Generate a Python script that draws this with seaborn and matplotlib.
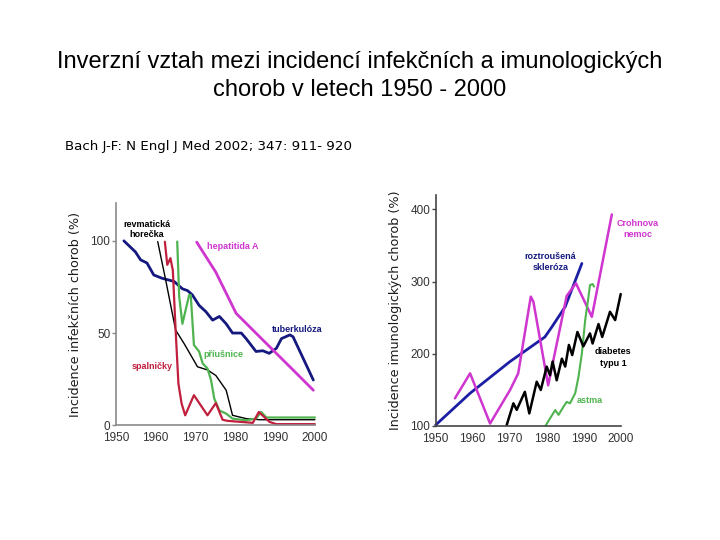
import numpy as np
import pandas as pd
import matplotlib
matplotlib.use("Agg")
import matplotlib.pyplot as plt
import seaborn as sns

sns.set_style("white")
plt.rcParams["font.family"] = ["DejaVu Sans"]
plt.rcParams["text.color"] = "black"
plt.rcParams["axes.labelcolor"] = "#1a1a1a"

# --- infectious diseases (left panel), incidence in % ---
tbc_year = [1952, 1954.9, 1956.2, 1957.8, 1959.5, 1961.6, 1964.6, 1966.7, 1968, 1969.2, 1970.9,
            1972.6, 1974.3, 1976, 1977.7, 1979.3, 1981.5, 1982.7, 1985.2, 1986.9, 1988.5, 1990.3,
            1991.6, 1993.7, 1994.5, 1999.6]
tbc_val = [100, 94, 89.7, 88, 81.5, 79.7, 78, 74, 73, 70.7, 65, 61.6, 57, 59, 55, 50, 50, 47, 40,
           40.4, 39, 41.7, 47, 49, 48, 24.5]

hep_year = [1970.3, 1975.1, 1980.2, 1986.1, 1994.5, 1999.6]
hep_val = [99.3, 83, 60.7, 48, 30, 19]

rheu_year = [1960.5, 1962.5, 1965, 1967.1, 1970.5, 1973, 1975.1, 1977.7, 1979.3, 1982.7, 1986.1, 2000]
rheu_val = [99.6, 78.8, 51.6, 44.4, 31.7, 30, 27, 19, 5.4, 3.6, 3, 3]

measles_year = [1962.3, 1962.9, 1963.7, 1964.3, 1965, 1965.7, 1966.5, 1967.4, 1969.6, 1973, 1975.1,
                1976.8, 1978, 1984.4, 1985.9, 1988.6, 1990.3, 2000]
measles_val = [99.5, 87, 90.6, 84, 51.6, 22.6, 11.8, 5.4, 16.3, 5.4, 12, 3, 2.4, 1.3, 7.2, 1.8, 0.6, 0.6]

mumps_year = [1965.4, 1965.9, 1966.7, 1968.4, 1968.8, 1969.2, 1969.6, 1970.9, 1971.8, 1973, 1973.9,
              1974.7, 1976, 1977.7, 1979.3, 1982.7, 1985.2, 1986.5, 1987.8, 1990.3, 2000]
mumps_val = [99.6, 69.7, 55, 70.6, 70.6, 57, 43.5, 40, 33.5, 30.8, 24.5, 14.5, 8, 6.3, 3.6, 2.7, 3.6,
             7.2, 4.2, 4.2, 4.2]

# --- immunological diseases (right panel), incidence in % ---
ms_year = [1950, 1959.3, 1970.1, 1979.5, 1981.4, 1985, 1989.5]
ms_val = [101, 145, 189, 223, 237, 265, 325]

crohn_year = [1955.2, 1959.3, 1964.7, 1970.1, 1972.3, 1975.7, 1976.4, 1980.4, 1985.4, 1987.9,
              1992.2, 1997.6]
crohn_val = [137.9, 172.6, 103, 149.5, 172.6, 279, 272, 156, 280, 297.5, 251, 393]

diab_year = [1969.2, 1971, 1971.9, 1974.1, 1975.3, 1977.3, 1978.4, 1980, 1980.9, 1981.6, 1982.7,
             1984.1, 1985, 1986, 1986.9, 1988.3, 1989.9, 1991.7, 1992.4, 1994, 1995, 1997.1,
             1998.5, 2000]
diab_val = [101, 131, 122, 147, 117, 161, 149.5, 182, 170, 189, 163, 193, 182, 212, 198, 230, 210,
            228, 214, 241, 223, 258, 246.5, 282.6]

asthma_year = [1979.7, 1982.3, 1983.2, 1984.5, 1985.4, 1986.3, 1987.7, 1988.6, 1989.5, 1990.4,
               1991.3, 1991.7, 1992.4, 1992.8]
asthma_val = [100, 121.7, 115, 126, 133, 131, 145, 168, 200, 246.5, 279, 295, 296.5, 293]

year_ticks = [1950, 1960, 1970, 1980, 1990, 2000]

NAVY = "#15197f"
BLUE = "#1c1fa3"
MAGENTA = "#cf35cf"
GREEN = "#4fb34f"
CRIMSON = "#c01f3d"


def draw(ax, x, y, color, lw):
    sns.lineplot(x=x, y=y, ax=ax, color=color, linewidth=lw, sort=False,
                 estimator=None, clip_on=False)


fig = plt.figure(figsize=(7.2, 5.4), dpi=100)

title_font = ["Liberation Sans Narrow", "Liberation Sans", "DejaVu Sans"]
fig.text(0.5, 0.885, "Inverzní vztah mezi incidencí infekčních a imunologických",
         ha="center", va="center", fontsize=17, family=title_font)
fig.text(0.5, 0.834, "chorob v letech 1950 - 2000",
         ha="center", va="center", fontsize=17, family=title_font)
fig.text(0.09, 0.728, "Bach J-F: N Engl J Med 2002; 347: 911- 920",
         ha="left", va="center", fontsize=9.6)

# left panel
ax1 = fig.add_axes([0.161, 0.2125, 0.2764, 0.4115])
draw(ax1, tbc_year, tbc_val, NAVY, 2.0)
draw(ax1, hep_year, hep_val, MAGENTA, 2.0)
draw(ax1, rheu_year, rheu_val, "black", 1.0)
draw(ax1, mumps_year, mumps_val, GREEN, 1.6)
draw(ax1, measles_year, measles_val, CRIMSON, 1.6)
ax1.set_xlim(1950, 2000)
ax1.set_ylim(0, 120.5)
ax1.set_yticks([0, 50, 100])

lab = dict(fontsize=6.5, fontweight="bold", family=["Liberation Sans", "DejaVu Sans"])
ax1.text(1957.8, 106, "revmatická\nhorečka", color="black", ha="center", va="center",
         linespacing=1.1, **lab)
ax1.text(1972.9, 97, "hepatitida A", color=MAGENTA, ha="left", va="center", **lab)
ax1.text(1989.1, 52, "tuberkulóza", color=NAVY, ha="left", va="center", **lab)
ax1.text(1972, 38.6, "příušnice", color=GREEN, ha="left", va="center", **lab)
ax1.text(1954, 32, "spalničky", color=CRIMSON, ha="left", va="center", **lab)
ax1.set_ylabel("Incidence infekčních chorob (%)", fontsize=9.2, labelpad=6)

# right panel
ax2 = fig.add_axes([0.6051, 0.2117, 0.257, 0.4272])
draw(ax2, ms_year, ms_val, BLUE, 2.0)
draw(ax2, crohn_year, crohn_val, MAGENTA, 1.8)
draw(ax2, asthma_year, asthma_val, GREEN, 1.5)
draw(ax2, diab_year, diab_val, "black", 1.8)
ax2.set_xlim(1950, 2000)
ax2.set_ylim(100, 420)
ax2.set_yticks([100, 200, 300, 400])

ax2.text(1981, 327.5, "roztroušená\nskleróza", color=NAVY, ha="center", va="center",
         linespacing=1.3, **lab)
ax2.text(2004.7, 372.8, "Crohnova\nnemoc", color=MAGENTA, ha="center", va="center",
         linespacing=1.2, **lab)
ax2.text(1997.9, 194.6, "diabetes\ntypu 1", color="black", ha="center", va="center",
         linespacing=1.3, **lab)
ax2.text(1988, 135.6, "astma", color=GREEN, ha="left", va="center", **lab)
ax2.set_ylabel("Incidence imunologických chorob (%)", fontsize=9.2, labelpad=6)

for ax, sc in ((ax1, "#8a8a8a"), (ax2, "#444444")):
    ax.set_xticks(year_ticks)
    ax.set_xlabel("")
    for side in ("top", "right"):
        ax.spines[side].set_visible(False)
    ax.spines["left"].set_color(sc)
    ax.spines["bottom"].set_color(sc)
    ax.spines["left"].set_linewidth(1.2)
    ax.spines["bottom"].set_linewidth(1.2)
    ax.tick_params(axis="x", direction="in", length=3, width=1, color=sc, pad=5,
                   labelsize=8.5, labelcolor="#333333")
    ax.tick_params(axis="y", direction="out", length=3, width=1, color=sc, pad=1,
                   labelsize=8.5, labelcolor="#333333", left=True)
    for t in ax.get_xticklabels() + ax.get_yticklabels():
        t.set_family(["Liberation Sans", "DejaVu Sans"])
    ax.patch.set_alpha(0)

fig.savefig("out.png", dpi=100)
